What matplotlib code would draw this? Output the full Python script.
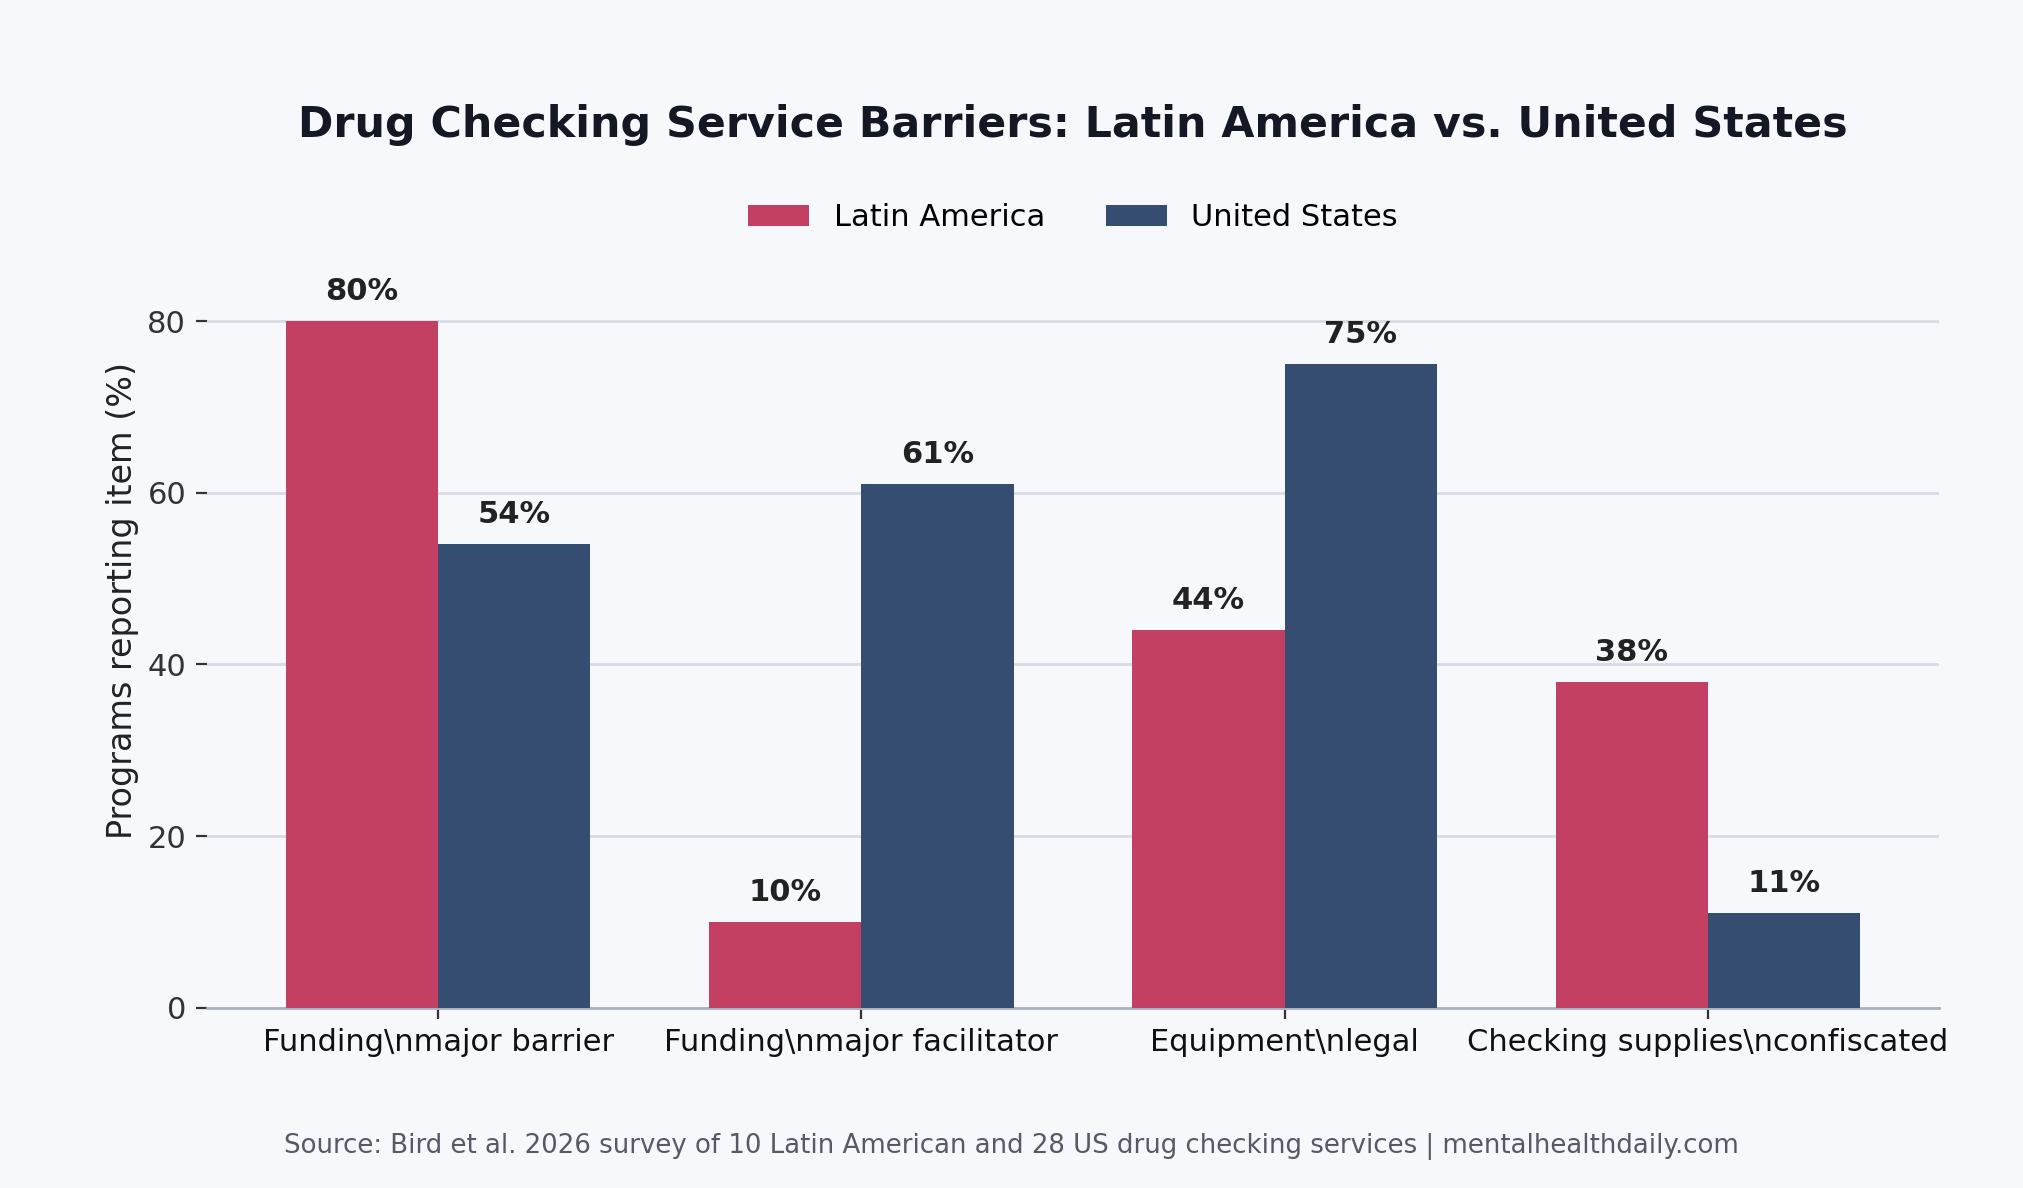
import matplotlib
matplotlib.use("Agg")
import matplotlib.pyplot as plt
import numpy as np

categories = ["Funding\\nmajor barrier", "Funding\\nmajor facilitator",
              "Equipment\\nlegal", "Checking supplies\\nconfiscated"]
latin_america = [80, 10, 44, 38]
united_states = [54, 61, 75, 11]
series_names = ["Latin America", "United States"]

BG = "#f7f8fc"
RED = "#c44063"
BLUE = "#344d70"

plt.rcParams['font.family'] = ['DejaVu Sans']
fig = plt.figure(figsize=(10.115, 5.94), dpi=200, facecolor=BG)

W, H = 2023, 1188
ax_left, ax_right = 207 / W, 1939 / W
y0_px = 1007.6
ymax = 95
px_per_unit = 171.6 / 20
ax_bottom = (H - y0_px) / H
ax_top = (H - (y0_px - ymax * px_per_unit)) / H
ax = fig.add_axes([ax_left, ax_bottom, ax_right - ax_left, ax_top - ax_bottom])
ax.set_facecolor(BG)

x = np.arange(len(categories))
w = 0.36
b1 = ax.bar(x - w / 2, latin_america, w, color=RED, label=series_names[0], zorder=3)
b2 = ax.bar(x + w / 2, united_states, w, color=BLUE, label=series_names[1], zorder=3)

for bars, vals in ((b1, latin_america), (b2, united_states)):
    for rect, v in zip(bars, vals):
        ax.text(rect.get_x() + rect.get_width() / 2, v + 1.75, f"{v}%",
                ha="center", va="bottom", fontsize=11, fontweight="bold", color="#222222")

ax.set_ylim(0, ymax)
ax.set_yticks([0, 20, 40, 60, 80])
ax.set_xticks(x)
ax.set_xticklabels(categories, fontsize=11, color="#111111")
ax.tick_params(axis="y", labelsize=11, labelcolor="#333333", color="#333333", length=4)
ax.tick_params(axis="x", color="#333333", length=4)
ax.grid(axis="y", color="#d8dbe4", linewidth=1.0, zorder=0)
for s in ("top", "right", "left"):
    ax.spines[s].set_visible(False)
ax.spines["bottom"].set_color("#a9b1c2")
ax.spines["bottom"].set_linewidth(1.0)

ax.set_ylabel("Programs reporting item (%)", fontsize=12, color="#222222", labelpad=3)

cx = (ax_left + ax_right) / 2
fig.text(cx, 1 - 125.2 / H, "Drug Checking Service Barriers: Latin America vs. United States",
         fontsize=15.4, fontweight="bold", color="#141824", ha="center", va="center")

ax.legend(loc="center", bbox_to_anchor=(cx, (H - 217.6) / H), bbox_transform=fig.transFigure,
          ncol=2, frameon=False, fontsize=11, handlelength=2.0, handleheight=0.7, columnspacing=2.0)

fig.text(0.5, 1 - 1146.6 / H,
         "Source: Bird et al. 2026 survey of 10 Latin American and 28 US drug checking services | mentalhealthdaily.com",
         ha="center", va="center", fontsize=9.36, color="#555a66")

fig.savefig("out.png", dpi=200, facecolor=BG)
